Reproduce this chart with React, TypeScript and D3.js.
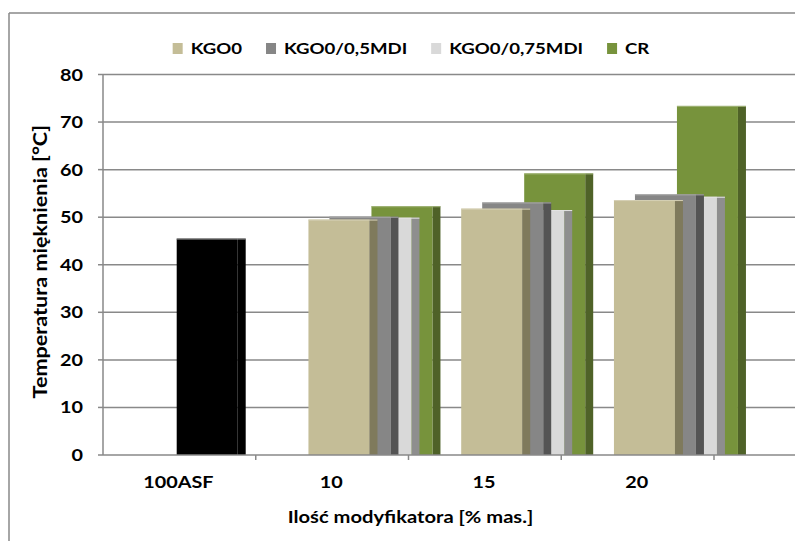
import { useEffect, useRef } from "react";
import * as d3 from "d3";

const categories = ["100ASF", "10", "15", "20"];
const seriesNames = ["KGO0", "KGO0/0,5MDI", "KGO0/0,75MDI", "CR"];
const kgo0 = [NaN, 49.5, 51.8, 53.6];
// the 100ASF reference bar sits in the second slot and is drawn black
const kgo05 = [45.5, 50.1, 53.1, 54.8];
const kgo075 = [NaN, 49.9, 51.5, 54.3];
const cr = [NaN, 52.3, 59.2, 73.4];
const yTicks = [0, 10, 20, 30, 40, 50, 60, 70, 80];

const W = 795;
const H = 541;
const PLOT = { left: 103, right: 714, top: 74.5, bottom: 455 };
const FACE_W = 61;
const DEPTH = 8;
const AXIS_GRAY = "#898989";
const FONT = "Lato, 'Open Sans', sans-serif";
const STRETCH = 1.2;

const faces = ["#c4bd97", "#868686", "#d9d9d9", "#77933c"];
const sides = ["#7f7a5c", "#545454", "#8e8e8e", "#4f6228"];

export default function App() {
  const svgRef = useRef<SVGSVGElement>(null);

  useEffect(() => {
    const svg = d3.select(svgRef.current);
    svg.selectAll("*").remove();

    const series = [kgo0, kgo05, kgo075, cr];

    const x = d3.scaleBand<string>().domain(categories).range([PLOT.left, PLOT.right]).padding(0);
    const slot = d3
      .scaleBand<string>()
      .domain(seriesNames)
      .range([52.7, 52.7 + 84])
      .padding(0);
    const y = d3.scaleLinear().domain([0, 80]).range([PLOT.bottom, PLOT.top]);

    // outer frame (left + top only, the rest is cropped)
    svg.append("line").attr("x1", 9).attr("x2", 9).attr("y1", 13).attr("y2", H)
      .attr("stroke", AXIS_GRAY).attr("stroke-width", 1.5);
    svg.append("line").attr("x1", 9).attr("x2", W).attr("y1", 13).attr("y2", 13)
      .attr("stroke", AXIS_GRAY).attr("stroke-width", 1.5);

    // gridlines
    svg.append("g")
      .selectAll("line")
      .data(yTicks.filter((t) => t > 0))
      .enter()
      .append("line")
      .attr("x1", PLOT.left)
      .attr("x2", W)
      .attr("y1", (d) => y(d))
      .attr("y2", (d) => y(d))
      .attr("stroke", AXIS_GRAY)
      .attr("stroke-width", 1.5);

    // bars, back series first so the front ones overlap
    const bars = svg.append("g");
    categories.forEach((cat, ci) => {
      for (let si = series.length - 1; si >= 0; si--) {
        const v = series[si][ci];
        if (!Number.isFinite(v)) continue;
        const isRef = ci === 0;
        const face = isRef ? "#000000" : faces[si];
        const side = isRef ? "#000000" : sides[si];
        const x0 = (x(cat) ?? 0) + (slot(seriesNames[si]) ?? 0);
        const top = y(v);
        bars.append("rect")
          .attr("x", x0 + FACE_W)
          .attr("y", top)
          .attr("width", DEPTH)
          .attr("height", PLOT.bottom - top)
          .attr("fill", side);
        bars.append("rect")
          .attr("x", x0)
          .attr("y", top)
          .attr("width", FACE_W)
          .attr("height", PLOT.bottom - top)
          .attr("fill", face);
        bars.append("line")
          .attr("x1", x0)
          .attr("x2", x0 + FACE_W + DEPTH)
          .attr("y1", top + 0.5)
          .attr("y2", top + 0.5)
          .attr("stroke", isRef ? "#8a8a8a" : d3.interpolateRgb(face, "#ffffff")(0.3))
          .attr("stroke-width", 1);
      }
    });

    // x axis
    svg.append("line").attr("x1", PLOT.left).attr("x2", W)
      .attr("y1", PLOT.bottom).attr("y2", PLOT.bottom)
      .attr("stroke", AXIS_GRAY).attr("stroke-width", 1.5);
    svg.append("g")
      .selectAll("line")
      .data(categories.slice(1).map((c) => x(c) ?? 0).concat([PLOT.right]))
      .enter()
      .append("line")
      .attr("x1", (d) => d)
      .attr("x2", (d) => d)
      .attr("y1", PLOT.bottom)
      .attr("y2", PLOT.bottom + 5)
      .attr("stroke", AXIS_GRAY)
      .attr("stroke-width", 1.5);
    svg.append("g")
      .selectAll("text")
      .data(categories)
      .enter()
      .append("text")
      .attr("transform", (d) => `translate(${(x(d) ?? 0) + x.bandwidth() / 2 - 1},488) scale(${STRETCH},1)`)
      .attr("text-anchor", "middle")
      .attr("font-family", FONT)
      .attr("font-weight", 700)
      .attr("font-size", 16.5)
      .text((d) => d);

    // y axis
    svg.append("line").attr("x1", PLOT.left).attr("x2", PLOT.left)
      .attr("y1", PLOT.top).attr("y2", PLOT.bottom)
      .attr("stroke", AXIS_GRAY).attr("stroke-width", 1.5);
    const yAxis = svg.append("g");
    yAxis.selectAll("line")
      .data(yTicks)
      .enter()
      .append("line")
      .attr("x1", PLOT.left - 5)
      .attr("x2", PLOT.left)
      .attr("y1", (d) => y(d))
      .attr("y2", (d) => y(d))
      .attr("stroke", AXIS_GRAY)
      .attr("stroke-width", 1.5);
    yAxis.selectAll("text")
      .data(yTicks)
      .enter()
      .append("text")
      .attr("transform", (d) => `translate(83,${y(d) + 6}) scale(${STRETCH},1)`)
      .attr("text-anchor", "end")
      .attr("font-family", FONT)
      .attr("font-weight", 700)
      .attr("font-size", 16.5)
      .text((d) => String(d));

    // axis titles
    svg.append("text")
      .attr("transform", `translate(${(288 + 533) / 2},523) scale(${STRETCH},1)`)
      .attr("text-anchor", "middle")
      .attr("font-family", FONT)
      .attr("font-weight", 700)
      .attr("font-size", 16.8)
      .text("Ilość modyfikatora [% mas.]");
    svg.append("text")
      .attr("transform", `translate(47,${(PLOT.top + PLOT.bottom) / 2 - 3}) rotate(-90) scale(${STRETCH},1)`)
      .attr("text-anchor", "middle")
      .attr("font-family", FONT)
      .attr("font-weight", 700)
      .attr("font-size", 18)
      .text("Temperatura mięknienia [°C]");

    // legend, laid out from measured text widths and centred
    const legend = svg.append("g");
    const items = seriesNames.map((name, i) => {
      const g = legend.append("g");
      g.append("rect").attr("x", 0).attr("y", -11).attr("width", 10).attr("height", 11).attr("fill", faces[i]);
      const t = g.append("text")
        .attr("transform", `translate(18,0) scale(${STRETCH},1)`)
        .attr("font-family", FONT)
        .attr("font-weight", 700)
        .attr("font-size", 15.5)
        .text(name);
      const tw = (t.node() as SVGTextElement).getComputedTextLength() * STRETCH;
      return { g, w: 18 + tw };
    });
    const gap = 24;
    const total = d3.sum(items, (d) => d.w) + gap * (items.length - 1);
    let cx = 411 - total / 2;
    items.forEach((it) => {
      it.g.attr("transform", `translate(${cx},54)`);
      cx += it.w + gap;
    });
  }, []);

  return (
    <svg
      ref={svgRef}
      width={W}
      height={H}
      style={{ position: "absolute", left: 0, top: 0, background: "#ffffff" }}
    />
  );
}
